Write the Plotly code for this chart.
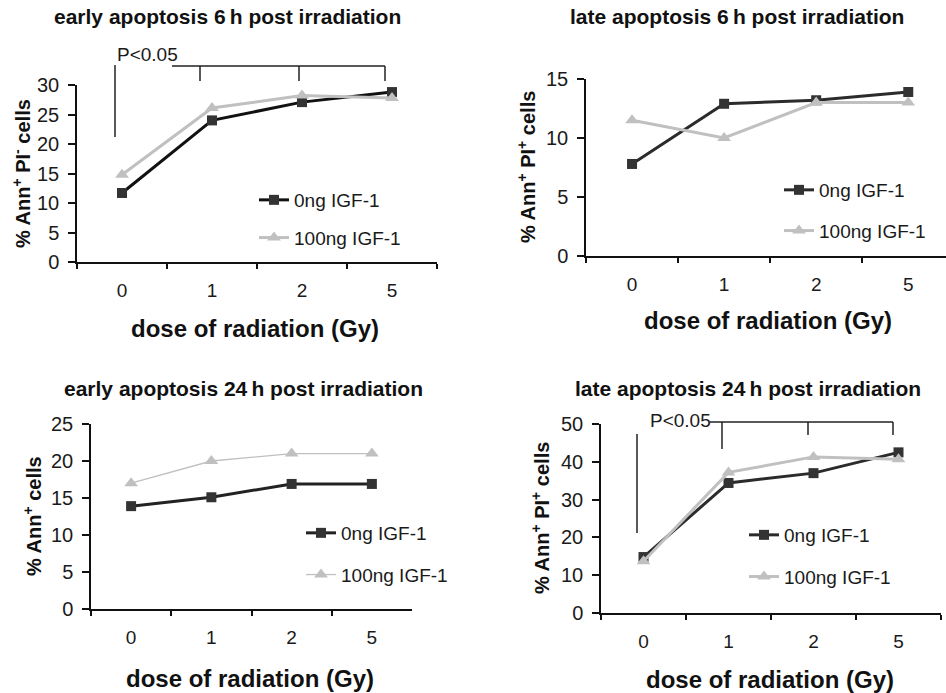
import plotly.graph_objects as go

W, H = 946, 693
FONT = "Liberation Sans, Arial, sans-serif"

# ---------------- data ----------------
doses = ["0", "1", "2", "5"]
series_names = ["0ng IGF-1", "100ng IGF-1"]

early6_0ng = [11.7, 24.0, 27.1, 28.8]
early6_100ng = [14.8, 26.1, 28.2, 27.8]
late6_0ng = [7.8, 12.9, 13.2, 13.9]
late6_100ng = [11.5, 10.0, 13.0, 13.0]
early24_0ng = [13.9, 15.1, 16.9, 16.9]
early24_100ng = [17.0, 20.0, 21.0, 21.0]
late24_0ng = [14.8, 34.4, 37.0, 42.5]
late24_100ng = [13.7, 37.2, 41.3, 40.7]

panel_titles = [
    "early apoptosis 6\u2009h post irradiation",
    "late apoptosis 6\u2009h post irradiation",
    "early apoptosis 24\u2009h post irradiation",
    "late apoptosis 24\u2009h post irradiation",
]
y_titles = [
    "% Ann<sup>+</sup> PI<sup>-</sup> cells",
    "% Ann<sup>+</sup> PI<sup>+</sup> cells",
    "% Ann<sup>+</sup> cells",
    "% Ann<sup>+</sup> PI<sup>+</sup> cells",
]
x_title = "dose of radiation (Gy)"
y_max = [30, 15, 25, 50]
y_step = [5, 5, 5, 10]
sig_label = "P<0.05"

series = [
    (early6_0ng, early6_100ng),
    (late6_0ng, late6_100ng),
    (early24_0ng, early24_100ng),
    (late24_0ng, late24_100ng),
]

# ---------------- layout (pixel boxes) ----------------
def px(x):
    return x / W

def py(y):
    return 1 - y / H

panels = [
    dict(box=(77, 437, 85, 262), xr=[-0.5, 3.5], title=(227, 17), xt=(255, 328), yt=(22, 174),
         leg=(296, 198, 41), lw=(3, 3), dark="#111111"),
    dict(box=(586, 946, 79, 256), xr=[-0.5, 3.41], title=(737, 17), xt=(768, 320), yt=(526, 167),
         leg=(821, 188, 44), lw=(3, 3), dark="#2b2b2b"),
    dict(box=(91, 412, 424, 609), xr=[-0.5, 3.5], title=(243, 388), xt=(250, 678), yt=(32, 516),
         leg=(343, 531, 45), lw=(3, 1.3), dark="#222222"),
    dict(box=(601, 941, 424, 613), xr=[-0.5, 3.5], title=(748, 388), xt=(770, 679), yt=(540, 518),
         leg=(786, 533, 45), lw=(3, 3), dark="#2b2b2b"),
]

DARK_MK = "#333333"
LIGHT = "#c0c0c0"

fig = go.Figure()
layout = dict(
    width=W, height=H, margin=dict(l=0, r=0, t=0, b=0, autoexpand=False),
    paper_bgcolor="white", plot_bgcolor="white",
    font=dict(family=FONT, size=19, color="#1a1a1a"),
    showlegend=True,
)
annotations = []
shapes = []

for i, p in enumerate(panels):
    n = "" if i == 0 else str(i + 1)
    xa, ya = "x" + n, "y" + n
    legname = "legend" + n
    x0, x1, y0, y1 = p["box"]
    s0, s1 = series[i]
    lw0, lw1 = p["lw"]
    fig.add_trace(go.Scatter(
        x=doses, y=s0, name=series_names[0], mode="lines+markers",
        line=dict(color=p["dark"], width=lw0),
        marker=dict(symbol="square", size=10, color=DARK_MK),
        xaxis=xa, yaxis=ya, legend=legname, legendgroup=f"g{i}a",
    ))
    fig.add_trace(go.Scatter(
        x=doses, y=s1, name=series_names[1], mode="lines+markers",
        line=dict(color=LIGHT, width=lw1),
        marker=dict(symbol="triangle-up", size=12, color=LIGHT),
        xaxis=xa, yaxis=ya, legend=legname, legendgroup=f"g{i}b",
    ))
    layout["xaxis" + n] = dict(
        domain=[px(x0), px(x1)], anchor=ya, type="category", categoryarray=doses,
        range=p["xr"], tickson="boundaries", ticks="outside", ticklen=5, tickwidth=1.5,
        tickcolor="#111", showline=True, linecolor="#111", linewidth=1.5,
        showgrid=False, zeroline=False, ticklabelstandoff=10, automargin=False,
        tickfont=dict(size=19, family=FONT, color="#1a1a1a"),
    )
    layout["yaxis" + n] = dict(
        domain=[py(y1), py(y0)], anchor=xa, range=[0, y_max[i]], dtick=y_step[i],
        ticks="outside", ticklen=7, tickwidth=1.5, tickcolor="#111",
        showline=True, linecolor="#111", linewidth=1.5, showgrid=False, zeroline=False,
        ticklabelstandoff=5, automargin=False,
        tickfont=dict(size=20, family=FONT, color="#1a1a1a"),
    )
    lx, ly, gap = p["leg"]
    layout[legname] = dict(
        x=px(lx - 42), y=py(ly - 17), xanchor="left", yanchor="top",
        bgcolor="rgba(0,0,0,0)", font=dict(size=19, family=FONT, color="#1a1a1a"),
        tracegroupgap=max(gap - 31, 0), traceorder="grouped",
    )
    tx, ty = p["title"]
    annotations.append(dict(text=panel_titles[i], x=px(tx), y=py(ty), xref="paper", yref="paper",
                            showarrow=False, xanchor="center", yanchor="middle",
                            font=dict(size=21, family=FONT, weight="bold", color="#111")))
    ax_, ay_ = p["xt"]
    annotations.append(dict(text=x_title, x=px(ax_), y=py(ay_), xref="paper", yref="paper",
                            showarrow=False, xanchor="center", yanchor="middle",
                            font=dict(size=24, family=FONT, weight="bold", color="#111")))
    yx, yy = p["yt"]
    annotations.append(dict(text=y_titles[i], x=px(yx), y=py(yy), xref="paper", yref="paper",
                            showarrow=False, xanchor="center", yanchor="middle", textangle=-90,
                            font=dict(size=20, family=FONT, weight="bold", color="#111")))

# significance brackets (pixel geometry of the annotation decorations)
brackets = [
    dict(vert=(115, 65, 137), horiz=(172, 385, 66), ticks=[(200, 81), (299, 81), (385, 81)], label=(115, 55)),
    dict(vert=(637, 434, 533), horiz=(710, 893, 422), ticks=[(722, 449), (808, 435), (893, 435)], label=(648, 420)),
]
LINE = dict(color="#222", width=1.5)
for b in brackets:
    vx, vy0, vy1 = b["vert"]
    shapes.append(dict(type="line", xref="paper", yref="paper", x0=px(vx), x1=px(vx),
                       y0=py(vy0), y1=py(vy1), line=LINE))
    hx0, hx1, hy = b["horiz"]
    shapes.append(dict(type="line", xref="paper", yref="paper", x0=px(hx0), x1=px(hx1),
                       y0=py(hy), y1=py(hy), line=LINE))
    for tx, ty in b["ticks"]:
        shapes.append(dict(type="line", xref="paper", yref="paper", x0=px(tx), x1=px(tx),
                           y0=py(hy), y1=py(ty), line=LINE))
    lx, ly = b["label"]
    annotations.append(dict(text=sig_label, x=px(lx), y=py(ly), xref="paper", yref="paper",
                            showarrow=False, xanchor="left", yanchor="middle",
                            font=dict(size=19, family=FONT, color="#1a1a1a")))

layout["annotations"] = annotations
layout["shapes"] = shapes
fig.update_layout(**layout)

post = ("document.body.style.margin='0';document.body.style.padding='0';"
        "document.body.style.overflow='hidden';document.documentElement.style.overflow='hidden';")
fig.write_html("out.html", post_script=post, config={"displayModeBar": False})
